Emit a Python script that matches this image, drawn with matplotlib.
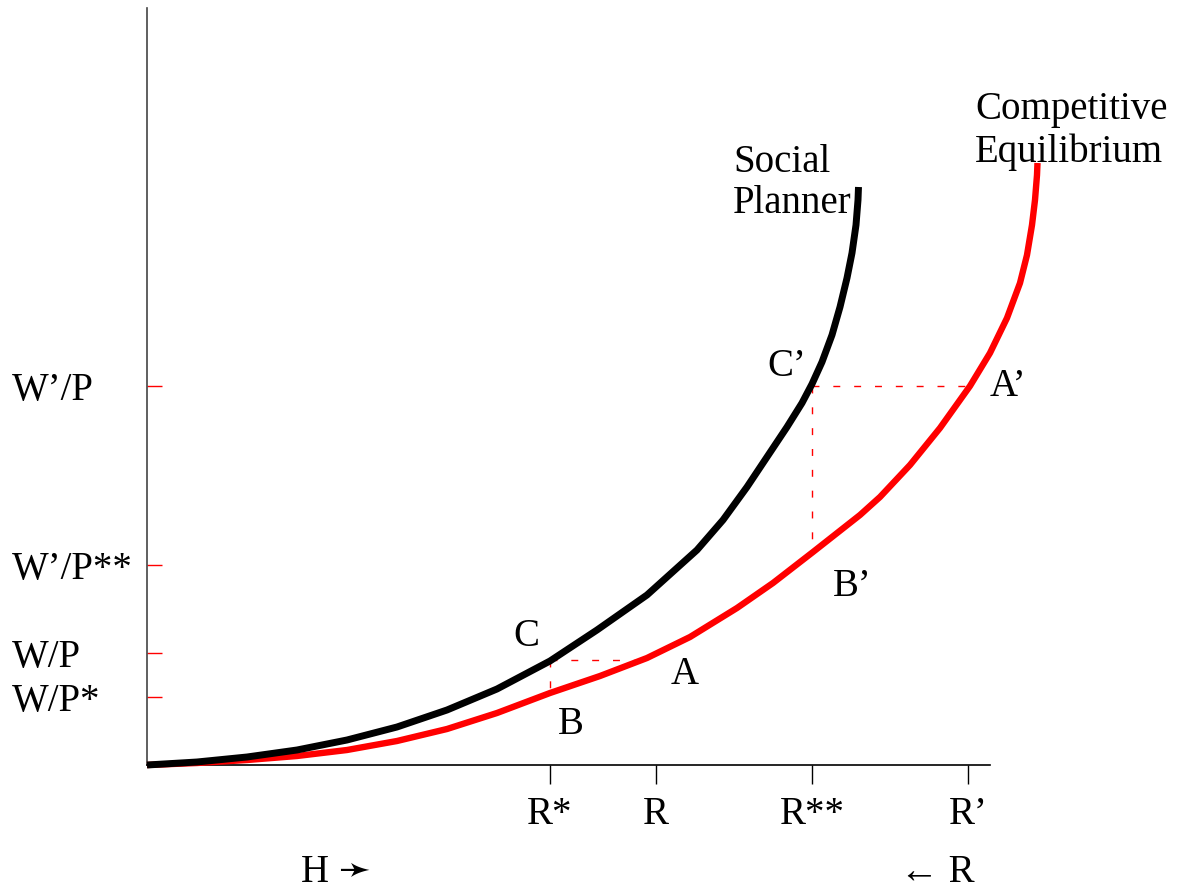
import matplotlib
matplotlib.use("Agg")
import matplotlib.pyplot as plt
import matplotlib.transforms as mtransforms

plt.rcParams['font.family'] = ['Liberation Serif', 'DejaVu Sans']

planner_x = [0, 50, 100, 150, 200, 250, 300, 350, 403, 450, 500, 550, 576, 600,
             640, 655, 665, 675, 685, 693, 700, 705, 709, 711, 711.5]
planner_y = [0, 3, 8, 15, 25, 38, 55, 76, 104, 135, 170, 215, 245, 278,
             338, 362, 381, 403, 430, 458, 487, 512, 540, 565, 578]

compet_x = [0, 50, 100, 150, 200, 250, 300, 350, 403, 453, 500, 543, 590, 626,
            666, 713, 733, 763, 793, 823, 843, 860, 873, 880, 885, 888, 890, 890.5]
compet_y = [0, 2, 5, 9, 15, 24, 36, 52, 72, 89, 107, 128, 157, 182,
            213, 250, 268, 300, 337, 379, 412, 447, 482, 510, 540, 565, 590, 602]

# reference points
xticks = [403, 509, 665, 821]
xlabels = ['R*', 'R', 'R**', 'R’']
yticks = [379, 200, 112, 68]
ylabels = ['W’/P', 'W’/P**', 'W/P', 'W/P*']

# dashed guides: C -> A, C -> B, C' -> A', C' -> B'
guide_C = (403, 105)
A_x = 493
B_y = 75
guide_C2 = (665, 379)
A2_x = 821
B2_y = 220

fig = plt.figure(figsize=(11.78, 8.92), dpi=100)
ax = fig.add_axes([147/1178, 127/892, 843/1178, 757/892])
ax.set_xlim(0, 843)
ax.set_ylim(0, 757)

for s in ['top', 'right']:
    ax.spines[s].set_visible(False)
ax.spines['left'].set_color('#444444')
ax.spines['left'].set_linewidth(1.2)
ax.spines['bottom'].set_linewidth(1.2)

ax.plot(compet_x, compet_y, color='#ff0000', lw=4.6, clip_on=False,
        solid_capstyle='butt', solid_joinstyle='round', zorder=3)
ax.plot(planner_x, planner_y, color='black', lw=5, clip_on=False,
        solid_capstyle='butt', solid_joinstyle='round', zorder=4)

dash = (0, (5, 10))
ax.plot([guide_C[0], A_x], [guide_C[1], guide_C[1]], color='red', lw=1, ls=dash, zorder=2)
ax.plot([guide_C[0], guide_C[0]], [guide_C[1], B_y], color='red', lw=1, ls=dash, zorder=2)
ax.plot([guide_C2[0], A2_x], [guide_C2[1], guide_C2[1]], color='red', lw=1, ls=dash, zorder=2)
ax.plot([guide_C2[0], guide_C2[0]], [guide_C2[1], B2_y], color='red', lw=1, ls=dash, zorder=2)

ax.set_xticks(xticks)
ax.set_xticklabels(xlabels, fontsize=28)
ax.tick_params(axis='x', direction='out', length=14, width=1, pad=8, color='black')

ax.set_yticks(yticks)
ax.set_yticklabels(ylabels, fontsize=28)
ax.tick_params(axis='y', direction='in', length=11, width=1, color='red', pad=0)
shift = mtransforms.ScaledTranslation(-135/100, 0, fig.dpi_scale_trans)
for lab in ax.get_yticklabels():
    lab.set_ha('left')
    lab.set_transform(lab.get_transform() + shift)

fs = 28
ax.text(586, 582, 'Social\nPlanner', fontsize=fs, ha='left', va='center', linespacing=1.12)
ax.text(828, 634, 'Competitive\nEquilibrium', fontsize=fs, ha='left', va='center',
        linespacing=1.18, clip_on=False)
ax.text(379, 128, 'C', fontsize=fs, ha='center', va='center')
ax.text(538, 90, 'A', fontsize=fs, ha='center', va='center')
ax.text(424, 40, 'B', fontsize=fs, ha='center', va='center')
ax.text(640, 398, 'C’', fontsize=fs, ha='center', va='center')
ax.text(861, 379, 'A’', fontsize=fs, ha='center', va='center', clip_on=False)
ax.text(705, 179, 'B’', fontsize=fs, ha='center', va='center')

fig.text(301/1178, 1 - 873/892, 'H ➛', fontsize=fs, ha='left', va='center')
fig.text(900/1178, 1 - 873/892, '← R', fontsize=fs, ha='left', va='center')

fig.savefig('out.png', dpi=100)
